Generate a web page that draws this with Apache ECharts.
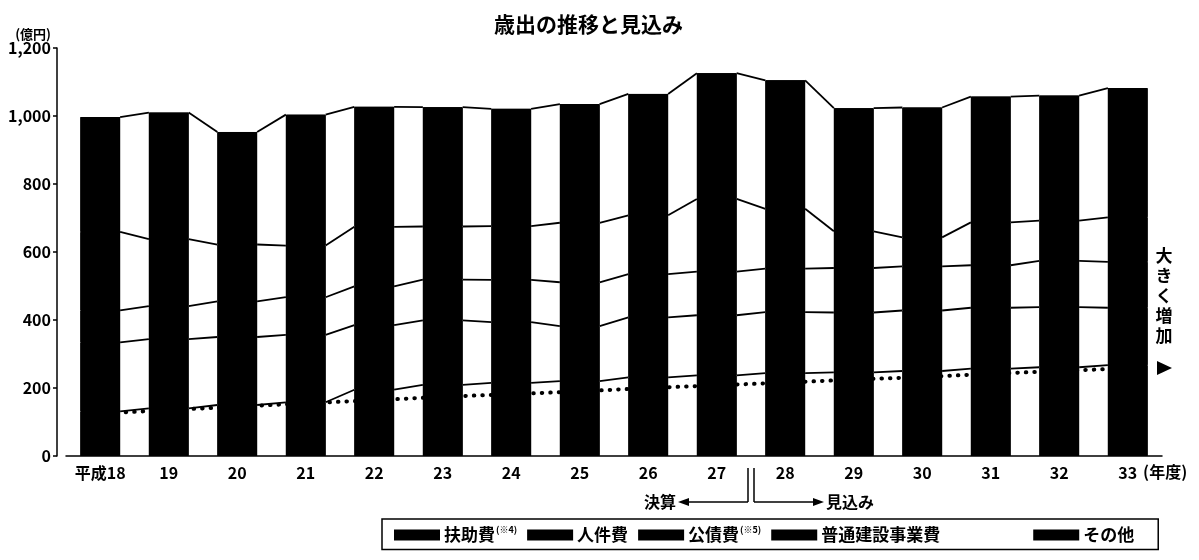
<!DOCTYPE html>
<html>
<head>
<meta charset="utf-8">
<script src="https://cdn.jsdelivr.net/npm/echarts@6/dist/echarts.min.js"></script>
<style>
html,body{margin:0;padding:0;background:#fff;}
#c{width:1199px;height:560px;}
</style>
</head>
<body>
<div id="c"></div>
<script>
// ---- data ----
const categories = ['平成18','19','20','21','22','23','24','25','26','27','28','29','30','31','32','33'];
const fujohi   = [131,140,150,158,195,209,215,220,231,237,244,246,250,257,261,267]; // 扶助費
const jinkenhi = [203,204,200,198,190,190,179,162,177,177,179,176,178,179,177,169]; // 人件費
const kosaihi  = [ 94, 97,105,111,114,120,124,129,127,128,128,131,130,125,136,135]; // 公債費
const kensetsu = [231,197,167,152,175,156,158,175,173,214,176,108, 85,126,118,131]; // 普通建設事業費
const sonota   = [338,372,331,385,353,351,345,349,357,370,378,362,382,370,368,380]; // その他
const dotted   = [125,135,145,155,164,174,182,190,200,208,216,225,232,242,250,258]; // 点線
const yTicks   = [0,200,400,600,800,1000,1200];

const seriesNames = ['扶助費','人件費','公債費','普通建設事業費','その他'];
const seriesVals = [fujohi, jinkenhi, kosaihi, kensetsu, sonota];

const BAR_RATIO = 0.58;
const FONT = '"Noto Sans CJK JP", "Noto Sans", sans-serif';

// cumulative levels for the connecting lines
const levels = [];
let run = categories.map(() => 0);
seriesVals.forEach(arr => {
  run = run.map((v, i) => v + arr[i]);
  levels.push(run.slice());
});
const totals = levels[levels.length - 1];

function connector(level, idx) {
  const data = [];
  for (let i = 0; i < level.length - 1; i++) data.push([i, level[i], level[i + 1]]);
  return {
    type: 'custom',
    name: 'conn' + idx,
    data: data,
    z: 5,
    silent: true,
    encode: { x: 0, y: 1 },
    renderItem: function (params, api) {
      const i = api.value(0);
      const p1 = api.coord([i, api.value(1)]);
      const p2 = api.coord([i + 1, api.value(2)]);
      const half = api.size([1, 0])[0] * BAR_RATIO / 2;
      return {
        type: 'line',
        shape: { x1: p1[0] + half, y1: p1[1], x2: p2[0] - half, y2: p2[1] },
        style: { stroke: '#000', lineWidth: 1.8 }
      };
    }
  };
}

const chart = echarts.init(document.getElementById('c'));

const series = [];
series.push({
  type: 'line',
  name: 'dotted',
  data: dotted,
  z: 1,
  symbol: 'none',
  silent: true,
  lineStyle: { color: '#000', width: 4, type: [0.5, 8], cap: 'round' }
});
seriesNames.forEach((n, k) => {
  series.push({
    type: 'bar',
    name: n,
    stack: 'total',
    data: seriesVals[k],
    barWidth: (BAR_RATIO * 100) + '%',
    itemStyle: { color: '#000', borderColor: '#000', borderWidth: 1 },
    z: 3,
    silent: true
  });
});
// solid backing bar (sum of the five series) to hide anti-aliasing seams
series.push({
  type: 'bar',
  name: 'backing',
  data: totals,
  barWidth: (BAR_RATIO * 100) + '%',
  barGap: '-100%',
  itemStyle: { color: '#000' },
  z: 2,
  silent: true
});
levels.forEach((lv, k) => series.push(connector(lv, k)));

const legendFmt = {
  '扶助費': '{t|扶助費}{s|(※4)}',
  '人件費': '{t|人件費}',
  '公債費': '{t|公債費}{s|(※5)}',
  '普通建設事業費': '{w|普通建設事業費}',
  'その他': '{t|その他}'
};

chart.setOption({
  animation: false,
  backgroundColor: '#fff',
  title: {
    text: '歳出の推移と見込み',
    left: 489,
    top: 9,
    textStyle: { fontFamily: FONT, fontSize: 21, fontWeight: 'bold', color: '#000' }
  },
  grid: { left: 66, right: 37, top: 48, bottom: 104, containLabel: false },
  legend: {
    data: seriesNames,
    left: 382,
    top: 519,
    padding: [6, 24, 6, 12],
    borderColor: '#000',
    borderWidth: 1.5,
    itemWidth: 44,
    itemHeight: 9,
    itemGap: 10,
    icon: 'rect',
    selectedMode: false,
    formatter: n => legendFmt[n],
    textStyle: {
      fontFamily: FONT, color: '#000', fontSize: 17,
      rich: {
        t: { fontFamily: FONT, fontSize: 17, fontWeight: 'bold', color: '#000', lineHeight: 20 },
        w: { fontFamily: FONT, fontSize: 17, fontWeight: 'bold', color: '#000', lineHeight: 20, width: 202 },
        s: { fontFamily: FONT, fontSize: 9, fontWeight: 'bold', color: '#000', verticalAlign: 'top', lineHeight: 20, padding: [0, 0, 6, 1] }
      }
    }
  },
  xAxis: {
    type: 'category',
    data: categories,
    boundaryGap: true,
    name: '(年度)',
    nameLocation: 'end',
    nameGap: -20,
    nameTextStyle: { fontFamily: FONT, fontSize: 16, fontWeight: 'bold', color: '#000', verticalAlign: 'top', align: 'left', padding: [8, 0, 0, 0] },
    axisLine: { lineStyle: { color: '#000', width: 1.5 } },
    axisTick: { show: false },
    axisLabel: { fontFamily: FONT, fontSize: 16, fontWeight: 'bold', color: '#000', margin: 9, interval: 0 }
  },
  yAxis: {
    type: 'value',
    min: 0,
    max: 1200,
    interval: 200,
    offset: 9,
    name: '(億円)',
    nameLocation: 'end',
    nameGap: 4,
    nameTextStyle: { fontFamily: FONT, fontSize: 13, fontWeight: 'bold', color: '#000', align: 'right', padding: [0, 6, 0, 0] },
    axisLine: { show: true, lineStyle: { color: '#000', width: 1.5 } },
    axisTick: { show: true, length: 4, lineStyle: { color: '#000', width: 1.5 } },
    splitLine: { show: false },
    axisLabel: {
      fontFamily: FONT, fontSize: 16, fontWeight: 'bold', color: '#000', margin: 6,
      formatter: v => yTicks.indexOf(v) >= 0 ? v.toLocaleString('en-US') : ''
    }
  },
  series: series
});

// annotations anchored to axis positions
const x27 = chart.convertToPixel({ xAxisIndex: 0 }, 9);
const x28 = chart.convertToPixel({ xAxisIndex: 0 }, 10);
const y0 = chart.convertToPixel({ yAxisIndex: 0 }, 0);
const mid = (x27 + x28) / 2;
const yArrow = y0 + 46;
const txtStyle = { fontFamily: FONT, fontSize: 16, fontWeight: 'bold', fill: '#000' };
chart.setOption({
  graphic: [
    { type: 'line', shape: { x1: mid - 3, y1: y0 + 12, x2: mid - 3, y2: yArrow }, style: { stroke: '#000', lineWidth: 1.5 } },
    { type: 'line', shape: { x1: mid + 3, y1: y0 + 12, x2: mid + 3, y2: yArrow }, style: { stroke: '#000', lineWidth: 1.5 } },
    { type: 'line', shape: { x1: mid - 3, y1: yArrow, x2: mid - 62, y2: yArrow }, style: { stroke: '#000', lineWidth: 1.5 } },
    { type: 'polygon', shape: { points: [[mid - 73, yArrow], [mid - 62, yArrow - 4], [mid - 62, yArrow + 4]] }, style: { fill: '#000' } },
    { type: 'text', x: mid - 75, y: yArrow, style: Object.assign({ text: '決算', align: 'right', verticalAlign: 'middle' }, txtStyle) },
    { type: 'line', shape: { x1: mid + 3, y1: yArrow, x2: mid + 62, y2: yArrow }, style: { stroke: '#000', lineWidth: 1.5 } },
    { type: 'polygon', shape: { points: [[mid + 73, yArrow], [mid + 62, yArrow - 4], [mid + 62, yArrow + 4]] }, style: { fill: '#000' } },
    { type: 'text', x: mid + 75, y: yArrow, style: Object.assign({ text: '見込み', align: 'left', verticalAlign: 'middle' }, txtStyle) },
    { type: 'text', x: 1164, y: 246, style: { text: '大\nき\nく\n増\n加', align: 'center', verticalAlign: 'top', lineHeight: 20, fontFamily: FONT, fontSize: 17, fontWeight: 'bold', fill: '#000' } },
    { type: 'polygon', shape: { points: [[1157, 361], [1157, 375], [1172, 368]] }, style: { fill: '#000' } }
  ]
});
</script>
</body>
</html>
